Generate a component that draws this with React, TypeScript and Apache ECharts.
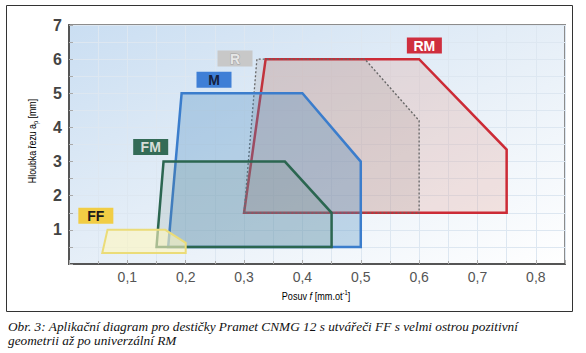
import React, { useEffect, useRef } from 'react';
import * as echarts from 'echarts';

// ---- data (feed f [mm/rev], depth of cut ap [mm]) ----
const ffPolygon = [[0.057, 0.32], [0.066, 1.0], [0.165, 1.0], [0.2, 0.62], [0.2, 0.32]];
const fmPolygon = [[0.15, 0.5], [0.162, 3.0], [0.37, 3.0], [0.45, 1.5], [0.45, 0.5]];
const mPolygon = [[0.17, 0.5], [0.193, 5.0], [0.4, 5.0], [0.5, 3.0], [0.5, 0.5]];
const rmPolygon = [[0.3, 1.5], [0.337, 6.0], [0.6, 6.0], [0.75, 3.35], [0.75, 1.5]];
const rPolygon = [[0.3, 1.5], [0.322, 6.0], [0.507, 6.0], [0.6, 4.2], [0.6, 1.5]];

const labelNames = ['FF', 'FM', 'M', 'R', 'RM'];
const labelAnchors = [[0.046, 1.41], [0.14, 3.43], [0.2485, 5.4], [0.2845, 6.02], [0.609, 6.4]];

const captionLines = [
  'Obr. 3: Aplikační diagram pro destičky Pramet CNMG 12 s utvářeči FF s velmi ostrou pozitivní',
  'geometrii až po univerzální RM',
];

const labelStyles: Record<string, { bg: string; color: string; stroke?: string }> = {
  FF: { bg: '#f1cd45', color: '#1a1a1a' },
  FM: { bg: '#336b57', color: '#d8ddd9' },
  M: { bg: '#3f7fd6', color: '#15213f' },
  R: { bg: '#c8c8c8', color: '#e6e6e6', stroke: '#a0a0a0' },
  RM: { bg: '#cf2e3e', color: '#ffffff' },
};

const SANS = '"Liberation Sans", Arial, sans-serif';

function polygonSeries(name: string, data: number[][], style: any, z: number) {
  return {
    type: 'custom',
    name,
    data,
    z,
    encode: { x: 0, y: 1 },
    renderItem: (params: any, api: any) => {
      if (params.dataIndex !== 0) return null;
      const pts = data.map((p) => api.coord(p));
      return { type: 'polygon', shape: { points: pts }, style };
    },
  };
}

export default function App() {
  const ref = useRef<HTMLDivElement>(null);
  useEffect(() => {
    if (!ref.current) return;
    const chart = echarts.init(ref.current, undefined, { renderer: 'svg' });
    const titleRich = {
      a: { fontSize: 11, color: '#555', fontFamily: SANS, lineHeight: 14 },
      i: { fontSize: 11, color: '#555', fontFamily: SANS, fontStyle: 'italic', lineHeight: 14 },
      sup: { fontSize: 7, color: '#555', fontFamily: SANS, verticalAlign: 'top', lineHeight: 14 },
      sub: { fontSize: 7, color: '#555', fontFamily: SANS, verticalAlign: 'bottom', lineHeight: 14 },
    };
    const option: any = {
      animation: false,
      grid: {
        left: 69,
        top: 25,
        right: 21,
        bottom: 89,
        show: true,
        borderColor: '#8c8c8c',
        borderWidth: 2,
        outerBoundsMode: 'none',
        backgroundColor: new echarts.graphic.LinearGradient(0, 0, 1, 1, [
          { offset: 0, color: '#cadef2' },
          { offset: 0.55, color: '#e8f0f8' },
          { offset: 1, color: '#ffffff' },
        ]),
      },
      xAxis: {
        type: 'value',
        min: 0,
        max: 0.85,
        interval: 0.1,
        axisLine: { show: true, lineStyle: { color: '#555', width: 2 } },
        axisTick: { show: true, inside: true, length: 4, lineStyle: { color: '#aaa' } },
        minorTick: { show: true, splitNumber: 2, length: 3, lineStyle: { color: '#aaa' } },
        splitLine: { show: true, lineStyle: { color: '#dde7f1', width: 1 } },
        minorSplitLine: { show: true, lineStyle: { color: '#dde7f1', width: 1 } },
        axisLabel: {
          showMinLabel: false,
          showMaxLabel: false,
          margin: 6,
          fontSize: 14,
          color: '#555',
          fontFamily: SANS,
          formatter: (v: number) => v.toFixed(1).replace('.', ','),
        },
      },
      yAxis: {
        type: 'value',
        min: 0,
        max: 7,
        interval: 1,
        axisLine: { show: true, lineStyle: { color: '#555', width: 2 } },
        axisTick: { show: true, inside: true, length: 4, lineStyle: { color: '#aaa' } },
        minorTick: { show: true, splitNumber: 2, length: 4, lineStyle: { color: '#aaa' } },
        splitLine: { show: true, lineStyle: { color: '#dde7f1', width: 1 } },
        minorSplitLine: { show: true, lineStyle: { color: '#dde7f1', width: 1 } },
        axisLabel: {
          showMinLabel: false,
          margin: 7,
          fontSize: 16,
          fontWeight: 'bold',
          color: '#444',
          fontFamily: SANS,
        },
      },
      series: [
        polygonSeries('RM', rmPolygon, { fill: 'rgba(222,140,125,0.22)', stroke: '#cc2b36', lineWidth: 2.5 }, 1),
        polygonSeries('R', rPolygon, { fill: 'rgba(130,110,100,0.13)', stroke: '#666', lineWidth: 1.3, lineDash: [2, 2] }, 2),
        polygonSeries('M', mPolygon, { fill: 'rgba(70,135,190,0.3)', stroke: '#3b7dcc', lineWidth: 2.5 }, 3),
        polygonSeries('FM', fmPolygon, { fill: 'rgba(100,130,115,0.16)', stroke: '#2b6650', lineWidth: 2.5 }, 4),
        polygonSeries('FF', ffPolygon, { fill: 'rgba(255,247,190,0.6)', stroke: '#ebdc78', lineWidth: 2 }, 5),
        {
          type: 'custom',
          name: 'labels',
          z: 10,
          data: labelAnchors,
          encode: { x: 0, y: 1 },
          renderItem: (params: any, api: any) => {
            const i = params.dataIndex;
            const c = api.coord([api.value(0), api.value(1)]);
            const name = labelNames[i];
            const st = labelStyles[name];
            return {
              type: 'group',
              children: [
                { type: 'rect', shape: { x: c[0] - 17.5, y: c[1] - 8, width: 35, height: 16 }, style: { fill: st.bg } },
                {
                  type: 'text',
                  style: {
                    text: name,
                    x: c[0],
                    y: c[1] + 0.5,
                    align: 'center',
                    verticalAlign: 'middle',
                    fill: st.color,
                    stroke: st.stroke,
                    lineWidth: st.stroke ? 1 : 0,
                    font: 'bold 14px "Liberation Sans", Arial, sans-serif',
                  },
                },
              ],
            };
          },
        },
      ],
      graphic: [
        {
          type: 'rect',
          shape: { x: 6.5, y: 5.5, width: 566, height: 306 },
          style: { fill: 'none', stroke: '#333', lineWidth: 1 },
          silent: true,
        },
        {
          type: 'text',
          x: 32,
          y: 141,
          rotation: Math.PI / 2,
          scaleX: 0.8,
          style: {
            text: '{a|Hloubka řezu a}{sub|p}{a| [mm]}',
            rich: titleRich,
            align: 'center',
            verticalAlign: 'middle',
          },
        },
        {
          type: 'text',
          x: 316,
          y: 296,
          scaleX: 0.83,
          style: {
            text: '{a|Posuv }{i|f}{a| [mm.ot}{sup|-1}{a|]}',
            rich: titleRich,
            align: 'center',
            verticalAlign: 'middle',
          },
        },
        {
          type: 'text',
          left: 8,
          top: 319,
          style: {
            text: captionLines.join('\n'),
            font: 'italic 13.3px "Liberation Serif", "Times New Roman", serif',
            fill: '#111',
            lineHeight: 14,
          },
        },
      ],
    };
    chart.setOption(option);
    return () => chart.dispose();
  }, []);
  return <div ref={ref} style={{ position: 'absolute', left: 0, top: 0, width: 586, height: 353 }} />;
}
